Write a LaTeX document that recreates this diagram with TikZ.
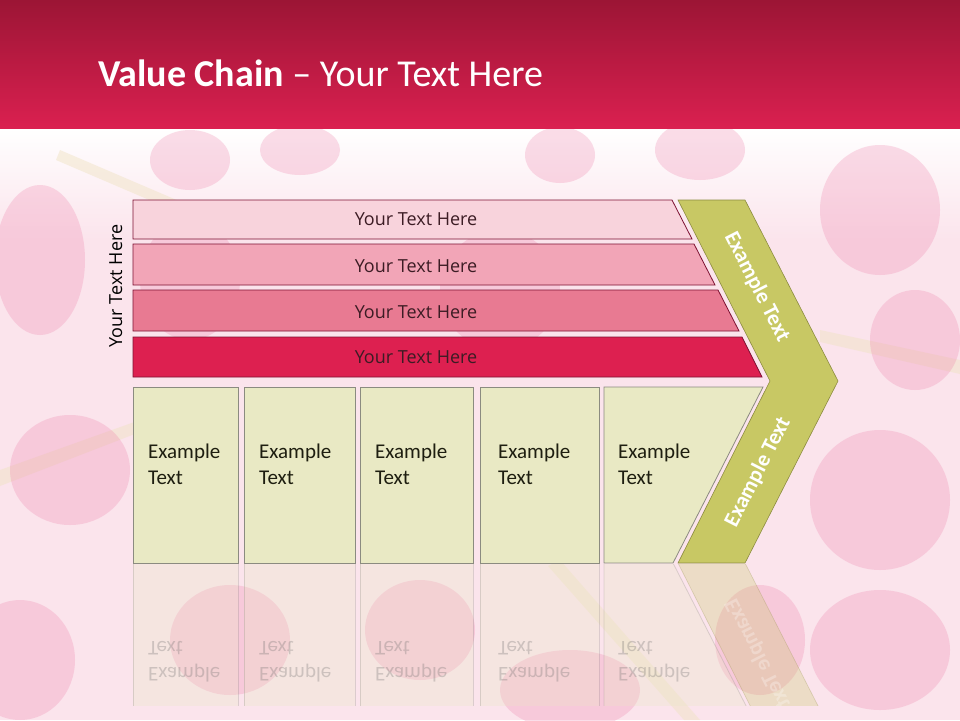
\documentclass[tikz,border=0pt]{standalone}
\usepackage{fontspec}
\setmainfont{Carlito}
\newfontfamily\osfont{Open Sans}
\usetikzlibrary{shapes.geometric}
\definecolor{hdtop}{HTML}{9C1535}
\definecolor{hdbot}{HTML}{DA2050}
\definecolor{bgpink}{HTML}{FBE4EC}
\definecolor{flower}{HTML}{EE7AA6}
\definecolor{stem}{HTML}{EFE2C0}
\definecolor{barA}{HTML}{F8D3DC}
\definecolor{barB}{HTML}{F2A5B7}
\definecolor{barC}{HTML}{E87A92}
\definecolor{barD}{HTML}{DD2050}
\definecolor{barline}{HTML}{7D1232}
\definecolor{bartxt}{HTML}{3C1C24}
\definecolor{chevfill}{HTML}{C8C864}
\definecolor{chevline}{HTML}{8C8C40}
\definecolor{boxfill}{HTML}{E9E9C4}
\definecolor{boxline}{HTML}{8B8B80}
\definecolor{boxtxt}{HTML}{1E1E10}
\begin{document}
\begin{tikzpicture}[x=1pt,y=-1pt,
  barshape/.style={draw=barline,line width=0.8pt},
  bartext/.style={font=\osfont\fontsize{18}{22}\selectfont,text=bartxt,anchor=base,inner sep=0pt},
  boxshape/.style={draw=boxline,fill=boxfill,line width=0.8pt},
  boxtext/.style={font=\fontsize{21}{26}\selectfont,text=boxtxt,align=left,anchor=north west,inner sep=0pt},
  chevshape/.style={draw=chevline,fill=chevfill,line width=0.6pt},
  chevtext/.style={font=\bfseries\fontsize{22}{26}\selectfont,text=white,inner sep=0pt},
  bloom/.style={fill=flower,opacity=0.25},
  stalk/.style={fill=stem,opacity=0.45}]
\useasboundingbox (0,0) rectangle (960,720);
% background
\fill[bgpink] (0,0) rectangle (960,720);
\shade[top color=white,bottom color=bgpink] (0,128) rectangle (960,240);
% floral impression
\fill[stalk] (0,470) -- (140,420) -- (140,432) -- (0,486) -- cycle;
\fill[stalk] (820,330) -- (960,360) -- (960,374) -- (820,342) -- cycle;
\fill[stalk] (560,560) -- (700,720) -- (684,720) -- (548,566) -- cycle;
\fill[stalk] (60,150) -- (200,210) -- (196,220) -- (56,160) -- cycle;
\fill[bloom] (40,260) ellipse [x radius=45,y radius=75];
\fill[bloom] (70,470) ellipse [x radius=60,y radius=55];
\fill[bloom] (20,660) ellipse [x radius=55,y radius=60];
\fill[bloom] (190,160) ellipse [x radius=40,y radius=30];
\fill[bloom] (300,150) ellipse [x radius=40,y radius=25];
\fill[bloom] (560,155) ellipse [x radius=35,y radius=28];
\fill[bloom] (700,150) ellipse [x radius=45,y radius=30];
\fill[bloom] (880,210) ellipse [x radius=60,y radius=65];
\fill[bloom] (915,340) ellipse [x radius=45,y radius=50];
\fill[bloom] (880,500) ellipse [x radius=70,y radius=70];
\fill[bloom] (880,650) ellipse [x radius=70,y radius=60];
\fill[bloom] (230,640) ellipse [x radius=60,y radius=55];
\fill[bloom] (420,630) ellipse [x radius=55,y radius=50];
\fill[bloom] (570,690) ellipse [x radius=70,y radius=40];
\fill[bloom] (760,640) ellipse [x radius=45,y radius=55];
\fill[bloom] (190,280) ellipse [x radius=50,y radius=60];
\fill[bloom] (500,290) ellipse [x radius=60,y radius=60];
% header
\shade[top color=hdtop,bottom color=hdbot] (0,0) rectangle (960,128);
\node[anchor=base west,inner sep=0pt,text=white,font=\fontsize{38}{44}\selectfont] (title) at (98,86)
  {\textbf{Value Chain} -- Your Text Here};
% side label
\node[font=\osfont\fontsize{18}{22}\selectfont,text=black,rotate=90,anchor=base,inner sep=0pt] (side) at (122,286) {Your Text Here};
% bars
\fill[barA,barshape] (133,200) -- (672,200) -- (692,239) -- (133,239) -- cycle;
\fill[barB,barshape] (133,244) -- (694,244) -- (715,285) -- (133,285) -- cycle;
\fill[barC,barshape] (133,290) -- (718,290) -- (739,331) -- (133,331) -- cycle;
\fill[barD,barshape] (133,337) -- (742,337) -- (762,377) -- (133,377) -- cycle;
\node[bartext] (t1) at (416,225) {Your Text Here};
\node[bartext] (t2) at (416,272) {Your Text Here};
\node[bartext] (t3) at (416,318) {Your Text Here};
\node[bartext] (t4) at (416,363) {Your Text Here};
% chevron
\path[chevshape] (678,200) -- (745,200) -- (838,381) -- (745,563) -- (678,563) -- (770,381) -- cycle;
\node[chevtext,rotate=-63] (c1) at (757,287) {Example Text};
\node[chevtext,rotate=63] (c2) at (758,472) {Example Text};
% boxes
\path[boxshape] (133,387) rectangle (238,563);
\path[boxshape] (244,387) rectangle (355,563);
\path[boxshape] (360,387) rectangle (473,563);
\path[boxshape] (480,387) rectangle (599,563);
\path[boxshape] (604,387) -- (763,387) -- (673,563) -- (604,563) -- cycle;
\node[boxtext] (b1) at (148,444) {Example\\Text};
\node[boxtext] (b2) at (259,444) {Example\\Text};
\node[boxtext] (b3) at (375,444) {Example\\Text};
\node[boxtext] (b4) at (498,444) {Example\\Text};
\node[boxtext] (b5) at (618,444) {Example\\Text};
% reflection
\begin{scope}
\clip (0,564) rectangle (960,705);
\begin{scope}[yshift=-1126pt,yscale=-1,transform shape,opacity=0.28]
\path[boxshape] (133,387) rectangle (238,563);
\path[boxshape] (244,387) rectangle (355,563);
\path[boxshape] (360,387) rectangle (473,563);
\path[boxshape] (480,387) rectangle (599,563);
\path[boxshape] (604,387) -- (763,387) -- (673,563) -- (604,563) -- cycle;
\path[chevshape] (745,563) -- (678,563) -- (770,381) -- (838,381) -- cycle;
\node[boxtext,text=black!60] (r1) at (148,444) {Example\\Text};
\node[boxtext,text=black!60] (r2) at (259,444) {Example\\Text};
\node[boxtext,text=black!60] (r3) at (375,444) {Example\\Text};
\node[boxtext,text=black!60] (r4) at (498,444) {Example\\Text};
\node[boxtext,text=black!60] (r5) at (618,444) {Example\\Text};
\node[chevtext,rotate=63] (rc) at (758,472) {Example Text};
\end{scope}
\end{scope}
\end{tikzpicture}
\end{document}
